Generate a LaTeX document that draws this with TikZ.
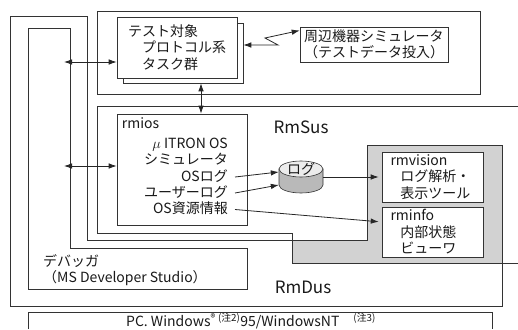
\documentclass[tikz,border=0pt]{standalone}
\usepackage{fontspec}
\setmainfont{Noto Sans CJK JP}
\usetikzlibrary{shapes.geometric, arrows.meta, positioning, calc}
\tikzset{
    dom_line/.style={
        draw=black!80, line width=0.6pt
    },
    box_plain/.style={
        rectangle, draw=black!80, line width=0.6pt, fill=white, inner sep=0pt
    },
    txt_main/.style={
        font=\fontsize{14}{16.5}\selectfont, inner sep=0pt, text=black!90
    },
    txt_dom/.style={
        font=\fontsize{17}{20}\selectfont, inner sep=0pt, text=black!90
    },
    link_both/.style={
        {Latex[length=8pt,width=5.5pt]}-{Latex[length=8pt,width=5.5pt]}, draw=black!85, line width=0.8pt
    },
    link_one/.style={
        -{Latex[length=8pt,width=5.5pt]}, draw=black!85, line width=0.8pt
    }
}

\begin{document}
\begin{tikzpicture}[x=1pt, y=-1pt]
    \useasboundingbox (0,0) rectangle (518,329);

    \fill[gray!35] (367,145) -- (502,145) -- (502,263) -- (292,263) -- (292,240) -- (367,240) -- cycle;
    \draw[dom_line] (10,16) -- (87,16) -- (87,240) -- (367,240) -- (367,145) -- (502,145) -- (502,306) -- (10,306) -- cycle;
    \draw[dom_line] (518,106) -- (97,106) -- (97,233) -- (292,233) -- (292,263) -- (518,263);
    \draw[dom_line] (28,28) -- (70,28) -- (70,248) -- (247,248) -- (247,289) -- (28,289) -- cycle;
    \draw[dom_line] (28,329) -- (28,312) -- (492,312) -- (492,329);

    \node[txt_dom] (rmsus_lbl) at (301,127) {RmSus};
    \node[txt_dom] (rmdus_lbl) at (303,287) {RmDus};
    \node[txt_main, anchor=west, align=left] (dbg_txt) at (43,270) {デバッガ\\（MS Developer Studio）};
    \node[txt_main] (pc_txt) at (251,321) {PC. Windows\textsuperscript{®}\,\textsuperscript{(注2)}95/WindowsNT\quad\textsuperscript{(注3)}};

    \node[box_plain, minimum width=383pt, minimum height=83pt] (test_area) at (288.5,52.5) {};
    \node[box_plain, minimum width=120pt, minimum height=60pt] (task_back) at (183,53) {};
    \node[box_plain, minimum width=120pt, minimum height=61pt, txt_main, align=left] (task) at (177,47.5)
        {テスト対象\\\hspace*{1em}プロトコル系\\\hspace*{1em}タスク群};
    \node[box_plain, minimum width=148pt, minimum height=35pt, txt_main, align=left] (periph) at (374,44.5)
        {周辺機器シミュレータ\\（テストデータ投入）};

    \node[box_plain, minimum width=130pt, minimum height=111pt,
          label={[txt_main, anchor=north west, xshift=5pt, yshift=-4pt]north west:rmios}] (rmios) at (182,169.5) {};
    \node[txt_main, anchor=base east] (mu_itron) at (228,148) {$\mu$ ITRON OS};
    \node[txt_main, anchor=base east] (sim_txt) at (228,164.5) {シミュレータ};
    \node[txt_main, anchor=base east] (os_log) at (228,181) {OSログ};
    \node[txt_main, anchor=base east] (user_log) at (228,197) {ユーザーログ};
    \node[txt_main, anchor=base east] (os_res) at (228,213.5) {OS資源情報};

    % log drum
    \draw[dom_line, fill=gray!55] (279,169) -- (279,185) arc[start angle=180, end angle=0, x radius=22, y radius=8] -- (323,169) -- cycle;
    \draw[dom_line, fill=gray!15] (301,169) ellipse[x radius=22, y radius=8];
    \node[minimum width=44pt, minimum height=32pt, inner sep=0pt,
          label={[txt_main, yshift=8pt]center:ログ}] (log) at (301,177) {};

    \node[box_plain, minimum width=101pt, minimum height=50pt, txt_main, align=left, text width=84pt] (rmvision) at (432.5,177)
        {rmvision\\\hspace*{0.7em}ログ解析・\\\hspace*{0.7em}表示ツール};
    \node[box_plain, minimum width=101pt, minimum height=50pt, txt_main, align=left, text width=84pt] (rminfo) at (432.5,232)
        {rminfo\\\hspace*{0.7em}内部状態\\\hspace*{0.7em}ビューワ};

    \coordinate (dbg_a) at (64,62);
    \coordinate (dbg_b) at (64,166);
    \coordinate (tr_x) at (201,0);
    \draw[link_both] (dbg_a) -- (dbg_a -| task.west);
    \draw[link_both] (dbg_b) -- (dbg_b -| rmios.west);
    \draw[link_both] (tr_x |- task_back.south) -- (tr_x |- rmios.north);
    \draw[link_both] ([yshift=8pt]task_back.east) -- (278,45) -- (265,38) -- ([yshift=14pt]periph.west);

    \draw[link_one] ([xshift=7pt,yshift=4pt]os_log.base east) -- ([yshift=5pt]log.west);
    \draw[link_one] ([xshift=7pt,yshift=4pt]user_log.base east) -- ([yshift=-8pt]log.west);
    \draw[link_one, shorten >=3pt] (log) -- (rmvision);
    \draw[link_one, shorten >=3pt] ([xshift=7pt,yshift=4pt]os_res.base east) -- ([yshift=10pt]rminfo.west);

\end{tikzpicture}
\end{document}
